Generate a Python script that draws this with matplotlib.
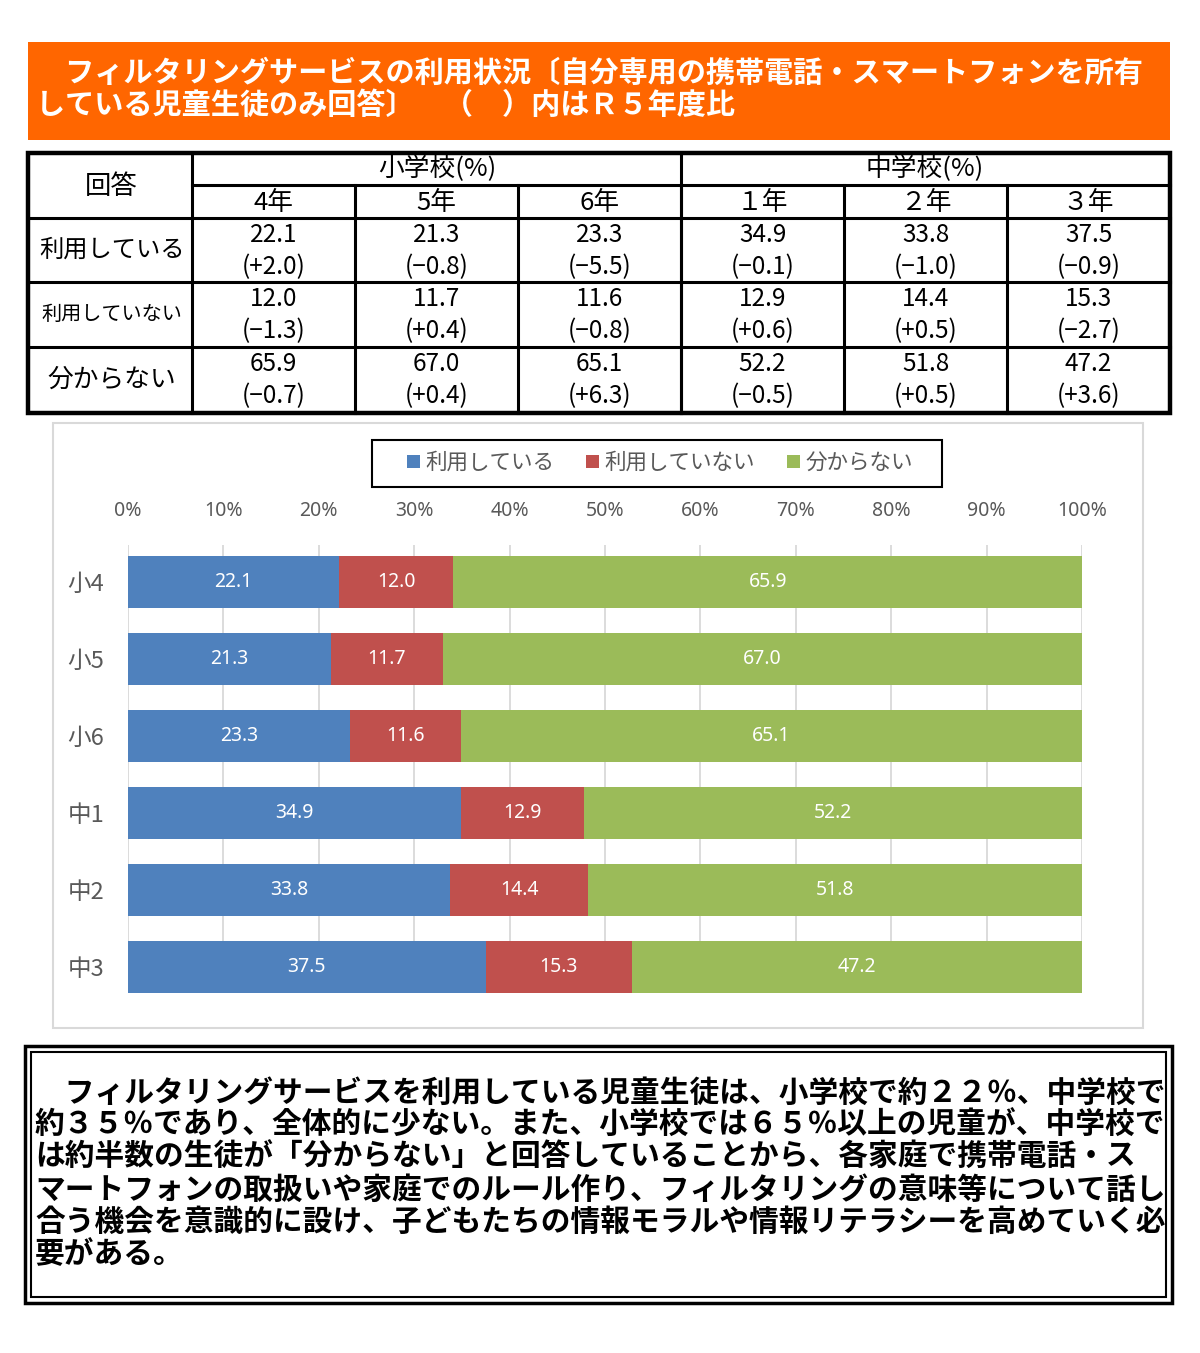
import matplotlib
matplotlib.use("Agg")
import matplotlib.pyplot as plt
from matplotlib.patches import Rectangle, Patch

plt.rcParams['font.family'] = ['Noto Sans CJK JP', 'DejaVu Sans']

# data
grades = ['小4', '小5', '小6', '中1', '中2', '中3']
col_heads = ['4年', '5年', '6年', '１年', '２年', '３年']
series_names = ['利用している', '利用していない', '分からない']
using = [22.1, 21.3, 23.3, 34.9, 33.8, 37.5]
not_using = [12.0, 11.7, 11.6, 12.9, 14.4, 15.3]
unknown = [65.9, 67.0, 65.1, 52.2, 51.8, 47.2]
using_diff = [2.0, -0.8, -5.5, -0.1, -1.0, -0.9]
not_using_diff = [-1.3, 0.4, -0.8, 0.6, 0.5, -2.7]
unknown_diff = [-0.7, 0.4, 6.3, -0.5, 0.5, 3.6]
colors = ['#4F81BD', '#C0504D', '#9BBB59']

title_lines = ['　フィルタリングサービスの利用状況〔自分専用の携帯電話・スマートフォンを所有',
               'している児童生徒のみ回答〕　（　）内はＲ５年度比']
note_lines = ['　フィルタリングサービスを利用している児童生徒は、小学校で約２２％、中学校で',
              '約３５％であり、全体的に少ない。また、小学校では６５％以上の児童が、中学校で',
              'は約半数の生徒が「分からない」と回答していることから、各家庭で携帯電話・ス',
              'マートフォンの取扱いや家庭でのルール作り、フィルタリングの意味等について話し',
              '合う機会を意識的に設け、子どもたちの情報モラルや情報リテラシーを高めていく必',
              '要がある。']

W, H = 1200, 1353
fig = plt.figure(figsize=(W / 100, H / 100), dpi=100)
fig.patch.set_facecolor('white')

# background axes in pixel coordinates
bg = fig.add_axes([0, 0, 1, 1])
bg.set_xlim(0, W)
bg.set_ylim(H, 0)
bg.axis('off')

# orange title band
bg.add_patch(Rectangle((28, 42), 1142, 98, facecolor='#FF6600', edgecolor='none'))
bg.text(36, 73, title_lines[0], color='white', fontsize=21, fontweight='bold', va='center', ha='left')
bg.text(36, 105, title_lines[1], color='white', fontsize=21, fontweight='bold', va='center', ha='left')

# table
tl, tr, tt, tb = 28, 1170, 153, 413
col_x = [192, 355, 518, 681, 844, 1007, 1170]
row_y = [218, 282, 347, 413]
lw_in = 2.2
bg.add_patch(Rectangle((tl, tt), tr - tl, tb - tt, facecolor='none', edgecolor='black', lw=3.2))
bg.plot([192, 192], [tt, tb], color='black', lw=lw_in)
bg.plot([681, 681], [tt, tb], color='black', lw=lw_in)
bg.plot([192, tr], [185, 185], color='black', lw=lw_in)
for x in col_x[1:-1]:
    bg.plot([x, x], [185, tb], color='black', lw=lw_in)
for y in row_y[:-1]:
    bg.plot([tl, tr], [y, y], color='black', lw=lw_in)

bg.text(111, 186, '回答', fontsize=19, ha='center', va='center')
bg.text(437, 169, '小学校(%)', fontsize=18.5, ha='center', va='center')
bg.text(925, 169, '中学校(%)', fontsize=18.5, ha='center', va='center')
for i, h in enumerate(col_heads):
    bg.text((col_x[i] + col_x[i + 1]) / 2, 203, h, fontsize=18.5, ha='center', va='center')

row_label_sizes = [17.5, 14.5, 18.5]
table_vals = [using, not_using, unknown]
table_diffs = [using_diff, not_using_diff, unknown_diff]
row_tops = [218, 282, 347]
for r in range(3):
    top = row_tops[r]
    bot = row_y[r + 1]
    bg.text(112, (top + bot) / 2, series_names[r], fontsize=row_label_sizes[r], ha='center', va='center')
    for i in range(6):
        cx = (col_x[i] + col_x[i + 1]) / 2
        bg.text(cx, top + 17, f'{table_vals[r][i]:.1f}', fontsize=17.5, ha='center', va='center')
        d = f'({table_diffs[r][i]:+.1f})'.replace('-', '−')
        bg.text(cx, top + 49, d, fontsize=17.5, ha='center', va='center')

# chart frame
bg.add_patch(Rectangle((53, 423), 1090, 605, facecolor='none', edgecolor='#D9D9D9', lw=1.5))
# legend frame
bg.add_patch(Rectangle((372, 440), 570, 47, facecolor='white', edgecolor='black', lw=1.5))

# bar chart axes
ax_l, ax_r, ax_t, ax_b = 128, 1082, 545, 993
ax = fig.add_axes([ax_l / W, 1 - ax_b / H, (ax_r - ax_l) / W, (ax_b - ax_t) / H])
ax.set_facecolor('none')
ypos = list(range(len(grades)))
left = [0] * len(grades)
for vals, c, name in zip([using, not_using, unknown], colors, series_names):
    bars = ax.barh(ypos, vals, left=left, height=0.675, color=c, label=name, zorder=3)
    ax.bar_label(bars, labels=[f'{v:.1f}' for v in vals], label_type='center',
                 color='white', fontsize=14, family=['Noto Sans', 'DejaVu Sans'])
    left = [a + b for a, b in zip(left, vals)]
ax.set_xlim(0, 100)
ax.set_ylim(5.34, -0.48)
ax.set_xticks(range(0, 101, 10))
ax.set_xticklabels([f'{t}%' for t in range(0, 101, 10)], family=['Noto Sans', 'DejaVu Sans'])
ax.xaxis.tick_top()
ax.tick_params(axis='x', length=0, pad=17, labelsize=14, labelcolor='#595959')
ax.set_yticks(ypos)
ax.set_yticklabels(grades)
ax.tick_params(axis='y', length=0, pad=17, labelsize=17, labelcolor='#595959')
ax.grid(axis='x', color='#D9D9D9', lw=1.3, zorder=0)
for s in ax.spines.values():
    s.set_visible(False)

handles = [Patch(facecolor=c, edgecolor='none') for c in colors]
leg = fig.legend(handles, series_names, loc='center', bbox_to_anchor=(660 / W, 1 - 463 / H),
                 ncol=3, frameon=False, fontsize=15.5,
                 handlelength=0.6, handleheight=0.6, handletextpad=0.25, columnspacing=1.5,
                 labelcolor='#595959')

# note box with double border
bg.add_patch(Rectangle((25, 1046), 1147, 257, facecolor='none', edgecolor='black', lw=2.5))
bg.add_patch(Rectangle((31, 1052), 1135, 245, facecolor='none', edgecolor='black', lw=1.5))
for k, line in enumerate(note_lines):
    bg.text(35, 1093 + k * 32.2, line, fontsize=21.4, fontweight='bold', ha='left', va='center')

fig.savefig('out.png', dpi=100)
